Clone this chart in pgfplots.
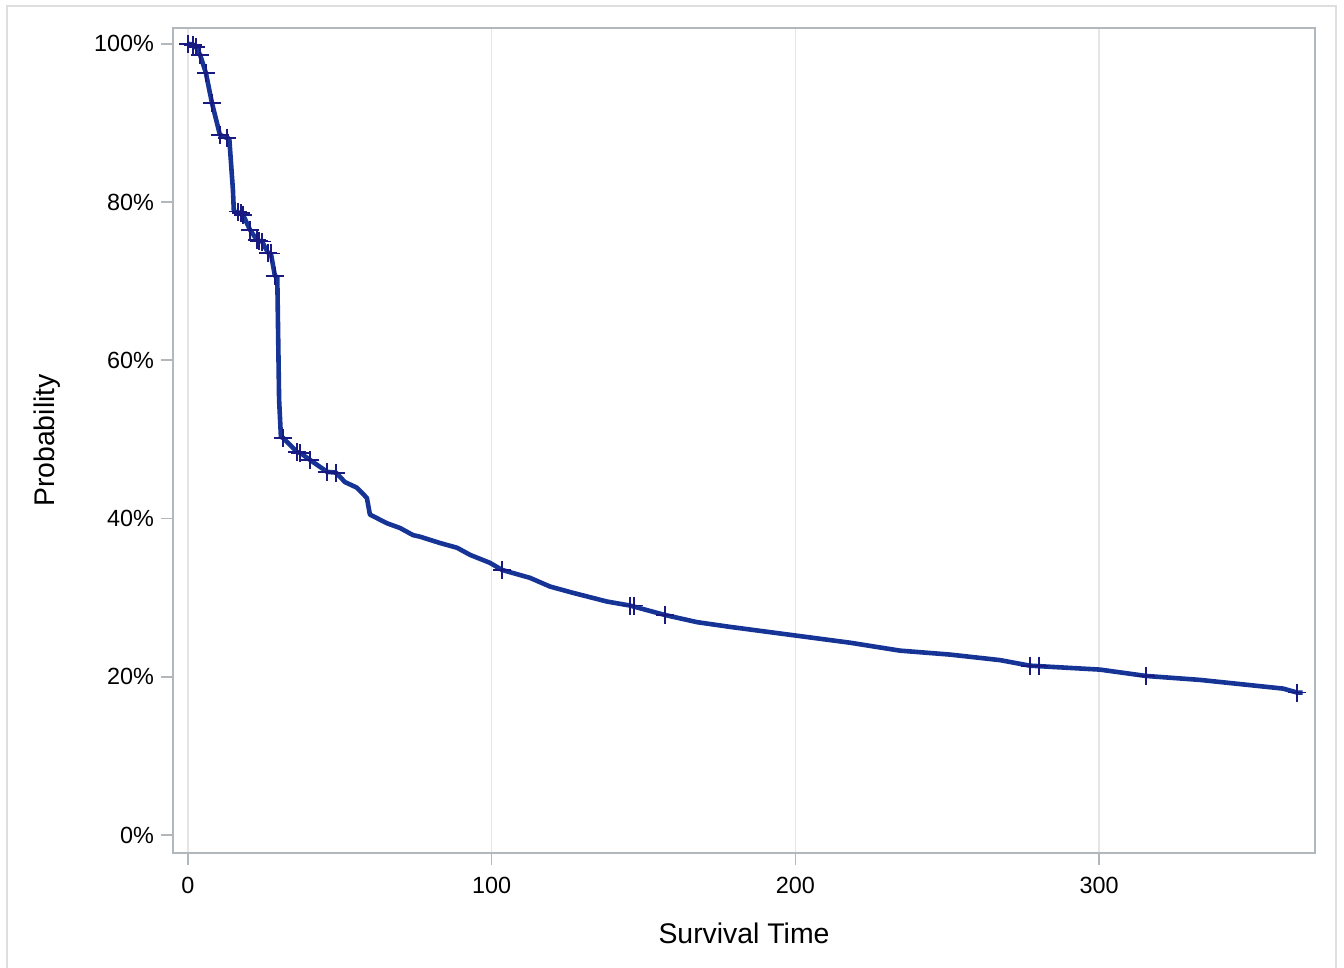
\documentclass[border=0pt]{standalone}
\usepackage{fontspec}
\setmainfont{Liberation Sans}
\usepackage{pgfplots}
\pgfplotsset{compat=1.18}
\definecolor{kmline}{RGB}{22,52,150}
\definecolor{kmmark}{RGB}{25,25,130}
\definecolor{framegray}{RGB}{222,222,222}
\definecolor{axisgray}{RGB}{178,183,188}
\definecolor{gridgray}{RGB}{228,229,232}

% Kaplan-Meier estimate (time, survival %)
\pgfplotstableread{
t s
0 100
1.7 99.9
2.6 99.6
4.0 98.6
5.9 96.3
7.9 92.5
10.5 88.5
12.8 88.1
13.6 88.0
14.8 81.5
15.1 78.8
17.5 78.6
18.1 78.4
20.4 76.5
22.7 75.2
24.4 75.0
26.3 73.6
27.3 73.5
28.6 70.7
29.4 70.5
30.0 55.0
30.6 50.3
31.3 50.2
35.9 48.4
36.9 48.3
40.2 47.4
45.8 45.9
48.7 45.8
51.7 44.6
55.6 43.9
58.9 42.6
59.9 40.5
65.5 39.4
69.8 38.8
74.1 37.9
76.4 37.7
83.0 36.9
88.6 36.3
92.9 35.4
99.4 34.4
103.4 33.5
112.6 32.5
119.2 31.4
126.8 30.6
138.0 29.5
145.5 29.0
157.1 27.8
167.6 26.9
178.5 26.3
200.2 25.2
218.0 24.3
234.4 23.3
250.9 22.8
267.4 22.1
277.2 21.4
300.3 20.9
315.4 20.1
333.2 19.6
360.6 18.5
365.2 18.0
367.0 18.0
}\kmcurve

% censored observations
\pgfplotstableread{
t s
0 100
1.7 99.9
2.6 99.6
4.0 98.6
5.9 96.3
7.9 92.5
10.5 88.5
12.8 88.1
16.5 78.8
17.5 78.6
18.1 78.4
20.4 76.5
22.7 75.2
23.4 75.1
24.4 75.0
26.3 73.6
27.3 73.5
28.6 70.7
31.3 50.2
35.9 48.4
36.9 48.3
40.2 47.4
45.8 45.9
48.7 45.8
103.4 33.5
145.5 29.0
146.9 29.0
157.1 27.8
277.2 21.4
280.2 21.4
315.4 20.1
365.2 18.0
}\kmcens

\begin{document}
\begin{tikzpicture}
\path[use as bounding box] (-86.5bp,-57.5bp) rectangle (585.5bp,426.5bp);
\draw[framegray, line width=1bp] (-83bp,-58bp) -- (-83bp,423.5bp) -- (581.5bp,423.5bp) -- (581.5bp,-58bp);
\begin{axis}[
  at={(0,0)}, anchor=south west, scale only axis,
  width=571bp, height=412.5bp,
  xmin=-4.94, xmax=371.1, ymin=-2.28, ymax=102.0,
  xtick={0,100,200,300}, ytick={0,20,40,60,80,100},
  yticklabel={\pgfmathprintnumber{\tick}\%},
  /pgf/number format/assume math mode=true,
  ticklabel style={font=\fontsize{11.7bp}{13bp}\selectfont},
  xticklabel style={yshift=-2.5bp},
  axis line style={axisgray, line width=0.8bp},
  tick style={axisgray, line width=0.8bp},
  major tick length=6bp, tick align=outside, tick pos=left,
  xmajorgrids, grid style={gridgray, line width=0.8bp},
  xlabel={Survival Time}, ylabel={Probability},
  label style={font=\fontsize{14.2bp}{16bp}\selectfont},
  xlabel style={at={(axis description cs:0.5,0)}, anchor=center, yshift=-40bp},
  ylabel style={at={(axis description cs:0,0.5)}, anchor=center, yshift=63bp},
]
\addplot[kmline, line width=2.3bp, line join=round, no marks] table[x=t, y=s] {\kmcurve};
\addplot[only marks, mark=+, mark size=4.5bp, kmmark, mark options={line width=0.9bp}] table[x=t, y=s] {\kmcens};
\end{axis}
\end{tikzpicture}
\end{document}
